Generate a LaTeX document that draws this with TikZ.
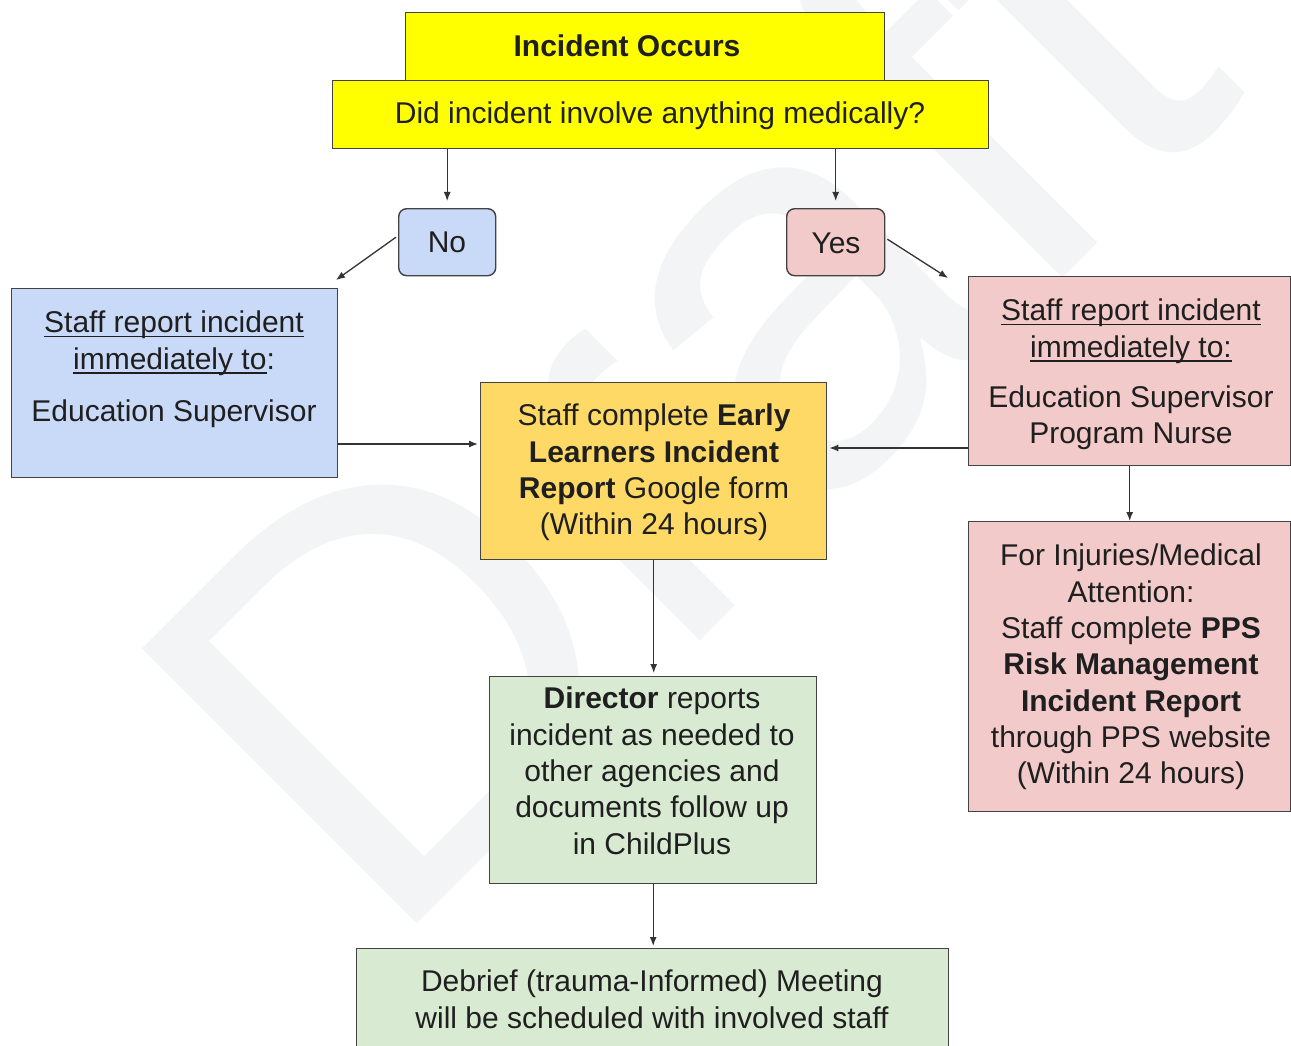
\documentclass[tikz,border=0pt]{standalone}
\usepackage{fontspec}
\setmainfont{Liberation Sans}
\usetikzlibrary{arrows.meta}
\definecolor{ink}{HTML}{1F1F1F}
\definecolor{bord}{HTML}{434343}
\definecolor{linec}{HTML}{333333}
\definecolor{wm}{HTML}{F3F4F6}
\definecolor{cyellow}{HTML}{FFFF00}
\definecolor{cblue}{HTML}{C9DAF8}
\definecolor{cpink}{HTML}{F2CACA}
\definecolor{corange}{HTML}{FFD966}
\definecolor{cgreen}{HTML}{D9EAD3}
\newsavebox\ulsavebox
\newcommand\ulline[1]{\sbox\ulsavebox{#1}\rlap{\rule[-4.5pt]{\wd\ulsavebox}{1.6pt}}\usebox\ulsavebox}
\tikzset{
  box/.style={draw=bord, line width=1.4pt, inner sep=0pt, anchor=north west},
  rbox/.style={box, rounded corners=8pt},
  txt/.style={anchor=north, inner sep=0pt, align=center, text=ink, font=\fontsize{30pt}{36.3pt}\selectfont},
  arr/.style={draw=linec, line width=1.3pt, -{Latex[length=9pt,width=7pt]}},
}
\begin{document}
\begin{tikzpicture}[x=1pt,y=-1pt]
\useasboundingbox (0,0) rectangle (1291,1046);
\clip (0,0) rectangle (1291,1046);
\fill[white] (0,0) rectangle (1291,1046);
% watermark
\node[anchor=base west, rotate=45, inner sep=0pt, text=wm, font=\fontsize{565pt}{565pt}\selectfont] (wmark) at (384,957) {Draft};

% boxes
\node[box, fill=cyellow, minimum width=479pt, minimum height=68pt] (occ) at (405,12) {};
\node[box, fill=cyellow, minimum width=656pt, minimum height=68pt] (q) at (332,80) {};
\node[rbox, fill=cblue, minimum width=97pt, minimum height=67pt] (no) at (398,208) {};
\node[rbox, fill=cpink, minimum width=98pt, minimum height=67pt] (yes) at (786,208) {};
\node[box, fill=cblue, minimum width=326pt, minimum height=189pt] (blue) at (11,288) {};
\node[box, fill=corange, minimum width=346pt, minimum height=177pt] (orange) at (480,382) {};
\node[box, fill=cpink, minimum width=322pt, minimum height=189pt] (red1) at (968,276) {};
\node[box, fill=cpink, minimum width=322pt, minimum height=290pt] (red2) at (968,521) {};
\node[box, fill=cgreen, minimum width=327pt, minimum height=207pt] (dir) at (489,676) {};
\node[box, fill=cgreen, minimum width=592pt, minimum height=120pt] (deb) at (356,948) {};

% texts
\node[txt] (t-occ) at (627,35) {\textbf{Incident Occurs}};
\node[txt] (t-q) at (660,102) {Did incident involve anything medically?};
\node[txt] (t-no) at (447,232) {No};
\node[txt] (t-yes) at (836,233) {Yes};
\node[txt] (t-blue) at (174,311) {\ulline{Staff report incident}\\\ulline{immediately to}:\\[16pt]Education Supervisor};
\node[txt] (t-orange) at (654,404) {Staff complete \textbf{Early}\\\textbf{Learners Incident}\\\textbf{Report} Google form\\(Within 24 hours)};
\node[txt] (t-red1) at (1131,299) {\ulline{Staff report incident}\\\ulline{immediately to:}\\[14pt]Education Supervisor\\Program Nurse};
\node[txt] (t-red2) at (1131,544) {For Injuries/Medical\\Attention:\\Staff complete \textbf{PPS}\\\textbf{Risk Management}\\\textbf{Incident Report}\\through PPS website\\(Within 24 hours)};
\node[txt] (t-dir) at (652,687) {\textbf{Director} reports\\incident as needed to\\other agencies and\\documents follow up\\in ChildPlus};
\node[txt] (t-deb) at (652,970) {Debrief (trauma-Informed) Meeting\\will be scheduled with involved staff};

% connectors
\coordinate (noend) at (336,280);
\coordinate (yesend) at (948,278);
\coordinate (h1) at (0,444);
\coordinate (h2) at (0,448);
\draw[arr, shorten >=7pt] (no.north |- q.south) -- (no.north);
\draw[arr, shorten >=7pt] (yes.north |- q.south) -- (yes.north);
\draw[arr] ([xshift=-2pt,yshift=5pt]no.west) -- (noend);
\draw[arr] ([xshift=2pt,yshift=3pt]yes.east) -- (yesend);
\draw[arr, shorten >=2pt] (blue.east |- h1) -- (orange.west |- h1);
\draw[arr, shorten >=2pt] (red1.west |- h2) -- (orange.east |- h2);
\draw[arr] (red1.south) -- (red2.north);
\draw[arr, shorten >=3pt] (orange.south) -- (orange.south |- dir.north);
\draw[arr, shorten >=2pt] (dir.south) -- (dir.south |- deb.north);
\end{tikzpicture}
\end{document}
